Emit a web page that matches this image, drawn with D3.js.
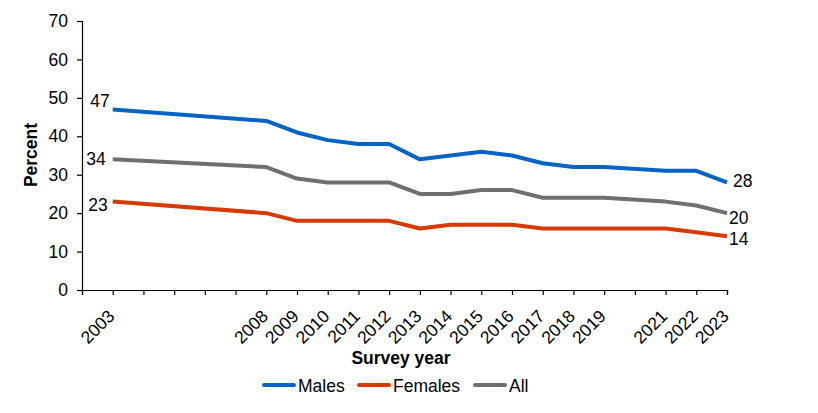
<!DOCTYPE html>
<html>
<head>
<meta charset="utf-8">
<script src="https://cdn.jsdelivr.net/npm/d3@7"></script>
<style>
  body { margin: 0; background: #fff; }
  text { font-family: "Liberation Sans", Arial, sans-serif; fill: #000; }
</style>
</head>
<body>
<svg id="chart" width="818" height="413"></svg>
<script>
var years = [2003, 2008, 2009, 2010, 2011, 2012, 2013, 2014, 2015, 2016, 2017, 2018, 2019, 2021, 2022, 2023];
var males = [47, 44, 41, 39, 38, 38, 34, 35, 36, 35, 33, 32, 32, 31, 31, 28];
var females = [23, 20, 18, 18, 18, 18, 16, 17, 17, 17, 16, 16, 16, 16, 15, 14];
var all = [34, 32, 29, 28, 28, 28, 25, 25, 26, 26, 24, 24, 24, 23, 22, 20];
var yTicks = [0, 10, 20, 30, 40, 50, 60, 70];

var series = [
  {name: "Males", values: males, color: "#0563c1"},
  {name: "Females", values: females, color: "#d53b00"},
  {name: "All", values: all, color: "#6f6f6f"}
];

var svg = d3.select("#chart");
var margin = {left: 82, right: 91, top: 21, bottom: 123};
var fs = "17.5px";

var x = d3.scaleLinear().domain([2002, 2023]).range([margin.left, 818 - margin.right]);
var y = d3.scaleLinear().domain([0, 70]).range([413 - margin.bottom, margin.top]);

// y axis
var yAxis = svg.append("g")
    .attr("transform", "translate(" + margin.left + ",0)")
    .call(d3.axisLeft(y).tickValues(yTicks).tickSize(5).tickPadding(9));
yAxis.selectAll("text").style("font-size", fs);

// x axis: ticks every year, labels only on survey years
var xAxis = svg.append("g")
    .attr("transform", "translate(0," + y(0) + ")")
    .call(d3.axisBottom(x).tickValues(d3.range(2002, 2024)).tickSize(5)
      .tickFormat(function(d) { return years.indexOf(d) >= 0 ? d : ""; }));
xAxis.selectAll("text")
    .style("font-size", fs)
    .attr("text-anchor", "end")
    .attr("transform", "translate(-2,23) rotate(-45)")
    .attr("dy", "0.35em")
    .attr("y", 0)
    .attr("x", 0);

svg.selectAll(".domain, .tick line").attr("stroke", "#000").attr("stroke-width", 1.2);

var line = d3.line()
    .x(function(d, i) { return x(years[i]); })
    .y(function(d) { return y(d); });

series.forEach(function(s) {
  svg.append("path")
      .datum(s.values)
      .attr("fill", "none")
      .attr("stroke", s.color)
      .attr("stroke-width", 4)
      .attr("stroke-linejoin", "round")
      .attr("d", line);
});

// end labels
var last = years.length - 1;
var startDx = [-3, -5, -7], startDy = [-2, 9, 6];
var endDx = [6, 2, 2], endDy = [5, 9, 11];
series.forEach(function(s, k) {
  svg.append("text")
      .attr("x", x(years[0]) + startDx[k])
      .attr("y", y(s.values[0]) + startDy[k])
      .attr("text-anchor", "end")
      .style("font-size", fs)
      .text(s.values[0]);
  svg.append("text")
      .attr("x", x(years[last]) + endDx[k])
      .attr("y", y(s.values[last]) + endDy[k])
      .style("font-size", fs)
      .text(s.values[last]);
});

// axis titles
svg.append("text")
    .attr("transform", "translate(37,155) rotate(-90)")
    .attr("text-anchor", "middle")
    .style("font-size", fs)
    .style("font-weight", "bold")
    .text("Percent");

svg.append("text")
    .attr("x", 401)
    .attr("y", 364)
    .attr("text-anchor", "middle")
    .style("font-size", fs)
    .style("font-weight", "bold")
    .text("Survey year");

// legend
var legendX = [263, 358, 474];
series.forEach(function(s, k) {
  var g = svg.append("g").attr("transform", "translate(" + legendX[k] + ",385)");
  g.append("line").attr("x1", 1).attr("x2", 31).attr("stroke", s.color).attr("stroke-width", 4).attr("stroke-linecap", "round");
  g.append("text").attr("x", 35).attr("y", 6.5).style("font-size", fs).text(s.name);
});
</script>
</body>
</html>
